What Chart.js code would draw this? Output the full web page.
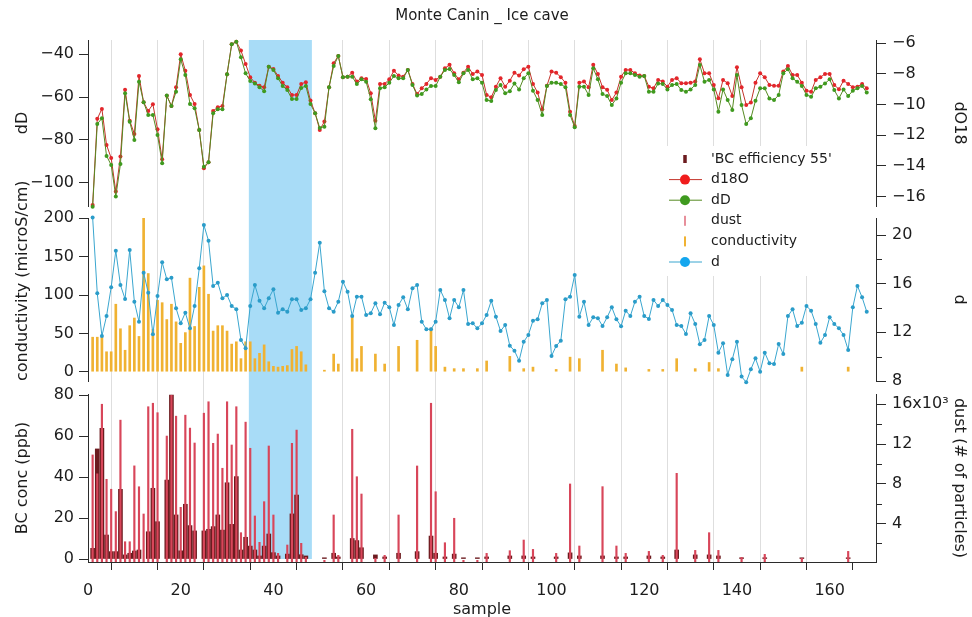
<!DOCTYPE html>
<html>
<head>
<meta charset="utf-8">
<script src="https://cdn.jsdelivr.net/npm/chart.js@4.4.1/dist/chart.umd.min.js"></script>
<style>
  html, body { margin: 0; padding: 0; background: #ffffff; }
  canvas { display: block; }
</style>
</head>
<body>
<canvas id="c" width="972" height="617"></canvas>
<script>
// ---------------- data ----------------
const firstSample = 1; // series below start at sample 1, one value per sample

const d18O = [
  -16.54,-10.93,-10.28,-12.63,-13.48,-15.67,-13.39,-9.04,-11.05,-11.91,
  -8.13,-9.85,-10.41,-9.98,-11.61,-13.56,-9.42,-10.09,-8.87,-6.72,
  -7.79,-9.37,-9.96,-11.65,-14.15,-13.76,-10.41,-10.17,-10.09,-8.02,
  -6.07,-5.90,-6.48,-7.35,-8.22,-8.57,-8.78,-8.87,-7.53,-7.68,
  -8.13,-8.57,-8.87,-9.37,-9.37,-8.65,-8.54,-9.74,-10.56,-11.65,
  -11.11,-8.87,-7.30,-6.83,-8.22,-8.18,-7.92,-8.50,-8.28,-8.33,
  -9.26,-11.05,-8.65,-8.65,-8.35,-7.79,-8.11,-8.18,-7.74,-8.65,
  -9.31,-8.93,-8.65,-8.28,-8.39,-8.18,-7.63,-7.41,-7.96,-8.35,
  -7.92,-7.53,-8.00,-7.85,-8.07,-9.37,-9.52,-8.83,-8.28,-8.83,
  -8.44,-7.92,-8.11,-7.69,-7.53,-8.65,-9.22,-10.30,-8.78,-7.85,
  -7.92,-8.22,-8.57,-10.46,-11.39,-8.57,-8.50,-8.87,-7.41,-8.00,
  -8.87,-9.04,-9.70,-9.22,-8.18,-7.74,-7.74,-7.96,-8.11,-8.13,
  -8.83,-8.93,-8.39,-8.50,-8.83,-8.39,-8.28,-8.61,-8.61,-8.57,
  -8.50,-7.04,-7.96,-7.96,-8.72,-9.59,-8.39,-8.61,-9.44,-7.56,
  -8.87,-10.02,-9.87,-8.57,-7.96,-8.22,-8.72,-8.78,-8.78,-7.85,
  -7.48,-8.07,-8.07,-8.57,-9.09,-9.16,-8.39,-8.22,-8.00,-8.00,
  -8.72,-9.00,-8.44,-8.65,-8.87,-8.83,-8.65,-8.93
];

const dD = [
  -111.2,-72.6,-69.9,-87.5,-91.7,-106.5,-91.3,-58.2,-71.5,-80,
  -52.8,-62.4,-68.4,-68.4,-77.7,-90.9,-59.3,-64.2,-57.5,-42.3,
  -49.7,-63.2,-65.2,-75.4,-92.5,-90.5,-67.6,-65.7,-65.7,-49.3,
  -35.3,-34.1,-41.4,-48.9,-52.5,-53.6,-55.4,-57.2,-45.8,-47.3,
  -51.2,-54.8,-56.7,-60.9,-60.9,-55.7,-54.8,-63.2,-67.6,-74.4,
  -73.8,-55.4,-45.5,-40.8,-50.7,-50.5,-50.5,-53.9,-51.7,-52.8,
  -61,-74.6,-55.9,-55.4,-53.3,-50.1,-51.2,-51.2,-47.3,-54.3,
  -59.2,-58.6,-56.4,-54.8,-54.8,-50.5,-47.3,-46.9,-49.7,-53.1,
  -48.9,-47.3,-51.7,-51.2,-53.3,-61.4,-61.8,-56.7,-54.3,-58.2,
  -57.2,-53.6,-56.4,-51.2,-48.9,-57,-61.4,-68.4,-54.8,-53.3,
  -53.3,-53.9,-55.4,-68.4,-74.1,-55.1,-55.1,-59,-46.5,-51.7,
  -58.6,-59.5,-63.7,-60.6,-53.3,-48.9,-48.9,-49.7,-50.5,-50.1,
  -57.5,-57.5,-53.6,-53.9,-56.4,-54.3,-53.9,-56.7,-57.5,-56.4,
  -54.3,-45,-52.8,-52,-56.4,-66.8,-56.4,-61.4,-66,-49.7,
  -63.7,-72.6,-69.9,-61.7,-55.9,-55.9,-60.6,-61.4,-59,-48.9,
  -47,-51.2,-52.8,-54.8,-59,-59.8,-55.9,-55.1,-53.6,-51.7,
  -56.7,-60.6,-56.4,-59.5,-57,-55.9,-54.8,-57.9
];

const dExcess = [
  21.45,15.21,11.70,13.34,15.70,18.71,15.89,14.74,18.77,14.52,
  12.88,16.90,15.26,11.84,14.99,17.76,16.36,16.49,13.98,12.74,
  13.62,12.33,14.17,17.26,20.82,19.53,15.81,16.08,14.80,15.07,
  14.17,13.89,11.37,10.69,14.17,15.89,14.60,13.98,14.80,15.54,
  13.62,13.89,13.70,14.72,14.72,13.84,13.98,14.72,16.90,19.37,
  15.37,13.98,13.70,14.52,16.16,15.34,13.34,14.93,14.93,13.43,
  13.57,14.39,13.48,14.44,14.06,12.60,14.25,14.88,13.89,15.62,
  15.89,12.88,12.25,12.25,12.88,15.48,14.66,13.16,14.66,14.06,
  15.48,12.69,12.74,12.33,12.74,13.43,14.60,13.29,12.11,12.60,
  10.90,10.49,9.67,11.23,11.78,12.96,13.07,14.39,14.66,10.06,
  10.88,11.31,14.72,14.93,16.71,13.29,14.52,12.60,13.24,13.16,
  12.52,13.24,14.06,13.07,12.50,13.78,13.34,14.52,14.93,13.34,
  13.10,14.66,14.17,14.66,14.25,13.84,12.60,12.52,11.87,13.57,
  12.69,11.02,11.37,13.34,12.60,10.33,11.10,8.50,9.79,11.23,
  8.36,7.90,8.96,9.87,8.77,10.33,9.46,9.40,11.04,10.22,
  13.34,13.89,12.52,12.79,14.17,13.78,12.69,11.15,11.78,13.24,
  12.69,12.33,11.78,10.55,14.06,15.81,14.88,13.70
];

const condSample = [1,2,3,4,5,6,7,8,9,10,11,12,13,14,15,16,17,18,19,20,21,22,23,24,25,26,27,28,29,30,
  31,32,33,34,35,36,37,38,39,40,41,42,43,44,45,46,47,
  51,53,54,57,58,59,62,64,67,71,74,75,77,79,81,84,86,91,94,96,101,104,106,111,114,116,121,124,127,131,134,136,154,164];
const condValue = [45,45,45,26,26,88,56,28,60,70,46,200,128,55,93,90,68,88,65,37,51,122,59,110,138,101,53,60,60,53,
  36,39,17,39,39,17,24,35,13,7,6,7,8,29,33,26,9,
  2,23,10,72,17,33,23,10,33,41,57,33,6,4,4,4,14,20,4,6,3,19,17,28,10,5,3,3,17,4,12,4,6,6];

const bcSample = [1,2,3,4,5,6,7,8,9,10,11,13,14,15,17,18,19,20,21,22,23,25,26,27,28,29,30,31,32,33,34,35,36,37,38,39,40,41,
  43,44,45,46,47,51,53,54,57,58,59,62,64,67,71,74,75,77,79,81,84,86,91,94,96,101,104,106,111,114,116,121,124,127,131,134,136,141,146,154,164];
const bcValue = [5.2,53.7,63.7,11.7,3.6,3.6,34,2,2.8,3.9,4.4,13.3,34.5,18.2,38.5,80,21.5,4,26.7,16.3,13.7,13.7,14.5,15.8,21.5,14.1,37.2,16.9,40.2,4.4,10.6,6.3,4.4,1.5,6.3,12.2,3.1,1.5,
  2.4,22,31.2,2.1,1.5,0.6,2.8,1,10,9,5.5,2,1,2.8,3.6,11.2,2.8,1,2.4,0.6,0.6,1,1.5,1.5,1,1,3,1.5,1.5,1,1,1.5,1,4.4,2,2,1.5,0.6,0.6,0.6,0.6];

const dustSample = [1,2,3,4,5,6,7,8,9,10,11,12,13,14,15,17,18,19,20,21,22,23,25,26,27,28,29,30,31,32,33,34,35,36,37,38,39,40,41,
  43,44,45,46,47,51,53,54,57,58,59,62,64,67,71,74,75,77,79,81,84,86,91,94,96,101,104,106,111,114,116,121,124,127,131,134,136,141,146,154,164];
const dustValue = [10900,9000,16000,8450,7450,5200,14400,2170,2170,9800,7700,4960,15750,16100,15150,12800,16900,14800,5630,14900,13600,12100,
  15100,16250,12070,13000,9560,16250,11900,15750,3080,14200,11570,4760,2110,6200,11800,4860,1000,
  1840,12070,13400,2010,600,300,4860,800,13480,8710,6970,500,800,4860,9790,16100,7200,2070,4530,300,300,1000,1270,2340,1400,1000,7980,1740,7710,1740,1000,1200,800,9050,1300,3080,1300,600,900,500,1200];

const highlightSamples = [34.7, 48.3]; // shaded sample range

// tick values / labels
const xMajorTicks = [0,20,40,60,80,100,120,140,160];
const xMinorTicks = [10,30,50,70,90,110,130,150,170];
const dDTicks = [-100,-80,-60,-40];
const d18OTicks = [-16,-14,-12,-10,-8,-6];
const condTicks = [0,50,100,150,200];
const dMajorTicks = [8,12,16,20];
const dMinorTicks = [10,14,18];
const bcTicks = [0,20,40,60,80];
const dustMajorTicks = [4000,8000,12000,16000];
const dustMinorTicks = [2000,6000,10000,14000];
const dustTickLabels = ['4','8','12','16x10\u00B3'];

// ---------------- styling ----------------
const FONT = "'DejaVu Sans', sans-serif";
const INK = '#1c1c1c';
const AXIS = '#2b2b2b';
const C = {
  red: '#e3262b', redLine: '#c4332a',
  green: '#3f9a1f', greenLine: '#568a22',
  blue: '#2a9cc9', blueLine: '#3aa6cf',
  orange: '#f0b232',
  bc: '#6c1b1f',
  dust: '#d8465a',
  band: 'rgb(168,220,247)'
};
Chart.defaults.font.family = FONT;
Chart.defaults.font.size = 16;
Chart.defaults.color = INK;

const minusFmt = v => String(v).replace('-', '\u2212');
const seq = arr => arr.map((v, i) => ({x: firstSample + i, y: v}));
const pairs = (xs, ys) => xs.map((x, i) => ({x: x, y: ys[i]}));
const setTicks = list => (s => { s.ticks = list.slice().sort((a, b) => a - b).map(v => ({value: v})); });

function leftAxis(o) {
  return {
    type: 'linear', position: 'left', stack: 'L', stackWeight: o.sw, weight: o.weight,
    min: o.min, max: o.max,
    afterBuildTicks: setTicks(o.ticks),
    afterFit: s => { s.width = 88; },
    ticks: {font: {size: 16}, color: INK, padding: 5, autoSkip: false, callback: o.label},
    grid: {display: true, drawOnChartArea: false, drawTicks: true, tickLength: 9, tickColor: AXIS, tickWidth: 1},
    border: {display: true, color: AXIS, width: 1},
    title: {display: true, text: o.title, font: {size: 16}, color: INK, align: o.align || 'center',
            padding: {top: 13, bottom: 0}}
  };
}
function rightAxis(o) {
  const minor = o.minor || [];
  return {
    type: 'linear', position: 'right', stack: 'R', stackWeight: o.sw, weight: o.weight,
    min: o.min, max: o.max,
    minorTicks: minor,
    afterBuildTicks: setTicks(o.ticks.concat(minor)),
    afterFit: s => { s.width = 96; },
    ticks: {font: {size: 16}, color: INK, padding: 6, autoSkip: false, callback: o.label},
    grid: {display: true, drawOnChartArea: false, drawTicks: true, tickLength: 10, tickWidth: 1,
           tickColor: c => (c.tick && minor.includes(c.tick.value)) ? 'rgba(0,0,0,0)' : AXIS},
    border: {display: true, color: AXIS, width: 1},
    title: {display: true, text: o.title, font: {size: 16}, color: INK, align: o.align || 'center',
            padding: {top: 3, bottom: 0}}
  };
}
function spacer(pos, stack, sw, weight) {
  return {type: 'linear', display: false, position: pos, stack: stack, stackWeight: sw, weight: weight,
          afterFit: s => { s.width = 0; }};
}

// shaded band plugin
const bandPlugin = {
  id: 'band',
  beforeDatasetsDraw(chart) {
    const {ctx, chartArea, scales} = chart;
    const x0 = scales.x.getPixelForValue(highlightSamples[0]);
    const x1 = scales.x.getPixelForValue(highlightSamples[1]);
    const yb = scales.yBC.getPixelForValue(0);
    ctx.save();
    ctx.fillStyle = C.band;
    ctx.fillRect(x0, chartArea.top, x1 - x0, yb - chartArea.top);
    ctx.restore();
  }
};

// short minor tick marks on the right-hand axes
const minorTickPlugin = {
  id: 'minorTicks',
  afterDraw(chart) {
    const ctx = chart.ctx;
    ctx.save();
    ctx.strokeStyle = AXIS;
    ctx.lineWidth = 1;
    ['yD', 'yDust'].forEach(id => {
      const s = chart.scales[id];
      (s.options.minorTicks || []).forEach(v => {
        const y = Math.round(s.getPixelForValue(v)) + 0.5;
        ctx.beginPath();
        ctx.moveTo(s.left, y);
        ctx.lineTo(s.left + 6, y);
        ctx.stroke();
      });
    });
    ctx.restore();
  }
};

// in-plot legend plugin
const legendItems = [
  {label: "'BC efficiency 55'", kind: 'bar', color: C.bc, w: 3.5, h: 8},
  {label: 'd18O', kind: 'line', line: C.redLine, marker: '#f01c1c'},
  {label: 'dD', kind: 'line', line: C.greenLine, marker: '#3f9a1f'},
  {label: 'dust', kind: 'bar', color: C.dust, w: 1.2, h: 10},
  {label: 'conductivity', kind: 'bar', color: C.orange, w: 2, h: 10},
  {label: 'd', kind: 'line', line: C.blueLine, marker: '#14a6ee'}
];
const legendPlugin = {
  id: 'boxLegend',
  afterDatasetsDraw(chart) {
    const ctx = chart.ctx;
    ctx.save();
    ctx.fillStyle = '#ffffff';
    ctx.fillRect(662, 146, 190, 130);
    const xs = 685, xt = 711, y0 = 159, dy = 20.6;
    legendItems.forEach((it, i) => {
      const y = y0 + i * dy;
      if (it.kind === 'line') {
        ctx.strokeStyle = it.line; ctx.lineWidth = 1;
        ctx.beginPath(); ctx.moveTo(669, y); ctx.lineTo(702, y); ctx.stroke();
        ctx.fillStyle = it.marker;
        ctx.beginPath(); ctx.arc(xs, y, 5, 0, Math.PI * 2); ctx.fill();
      } else {
        ctx.fillStyle = it.color;
        ctx.fillRect(xs - it.w / 2, y - it.h / 2, it.w, it.h);
      }
      ctx.fillStyle = INK;
      ctx.font = '14px ' + FONT;
      ctx.textAlign = 'left';
      ctx.textBaseline = 'middle';
      ctx.fillText(it.label, xt, y);
    });
    ctx.restore();
  }
};

const chart = new Chart(document.getElementById('c'), {
  type: 'line',
  data: {
    datasets: [
      {type: 'bar', label: "'BC efficiency 55'", data: pairs(bcSample, bcValue), xAxisID: 'x', yAxisID: 'yBC',
       backgroundColor: C.bc, borderWidth: 0, barThickness: 4, grouped: false, order: 5},
      {type: 'bar', label: 'dust', data: pairs(dustSample, dustValue), xAxisID: 'x', yAxisID: 'yDust',
       backgroundColor: C.dust, borderWidth: 0, barThickness: 1.5, grouped: false, order: 4},
      {type: 'line', label: 'd18O', data: seq(d18O), xAxisID: 'x', yAxisID: 'yO18',
       borderColor: C.redLine, borderWidth: 1, pointRadius: 2, pointBackgroundColor: C.red,
       pointBorderWidth: 0, tension: 0, clip: false, order: 3},
      {type: 'line', label: 'dD', data: seq(dD), xAxisID: 'x', yAxisID: 'yDD',
       borderColor: C.greenLine, borderWidth: 1, pointRadius: 2, pointBackgroundColor: C.green,
       pointBorderWidth: 0, tension: 0, clip: false, order: 2},
      {type: 'bar', label: 'conductivity', data: pairs(condSample, condValue), xAxisID: 'x', yAxisID: 'yCond',
       backgroundColor: C.orange, borderWidth: 0, barThickness: 2, grouped: false, order: 1},
      {type: 'line', label: 'd', data: seq(dExcess), xAxisID: 'x', yAxisID: 'yD',
       borderColor: C.blueLine, borderWidth: 1, pointRadius: 2, pointBackgroundColor: C.blue,
       pointBorderWidth: 0, tension: 0, clip: false, order: 0}
    ]
  },
  options: {
    responsive: false,
    animation: false,
    events: [],
    layout: {padding: 0},
    plugins: {
      legend: {display: false},
      tooltip: {enabled: false},
      title: {display: true, fullSize: false, text: 'Monte Canin _ Ice cave', color: INK,
              font: {size: 15, weight: 'normal'}, padding: {top: 7, bottom: 15}}
    },
    scales: {
      x: {
        type: 'linear', position: 'bottom', min: 0, max: 170, offset: false,
        afterBuildTicks: setTicks(xMajorTicks.concat(xMinorTicks)),
        afterFit: s => { s.height = 55; },
        ticks: {autoSkip: false, maxRotation: 0, padding: 11, font: {size: 16}, color: INK,
                callback: v => xMajorTicks.includes(v) ? String(v) : ''},
        grid: {display: true, drawOnChartArea: true, drawTicks: true, tickLength: 8,
               color: c => (c.tick && (c.tick.value === 0 || c.tick.value === 170)) ? 'rgba(0,0,0,0)' : '#dedede',
               tickColor: AXIS, lineWidth: 1},
        border: {display: true, color: AXIS, width: 1},
        title: {display: true, text: 'sample', font: {size: 16}, color: INK, padding: {top: 0, bottom: -2}}
      },
      // left stack (top to bottom)
      yDD: leftAxis({sw: 166, weight: 5, min: -110.9, max: -33.3, ticks: dDTicks, label: minusFmt, title: 'dD'}),
      gapL1: spacer('left', 'L', 12, 4),
      yCond: leftAxis({sw: 163, weight: 3, min: -12.1, max: 200.4, ticks: condTicks, label: v => String(v),
                       title: 'conductivity (microS/cm)', align: 'start'}),
      gapL2: spacer('left', 'L', 13, 2),
      yBC: leftAxis({sw: 168, weight: 1, min: -1.46, max: 80.5, ticks: bcTicks, label: v => String(v),
                     title: 'BC conc (ppb)'}),
      // right stack (top to bottom)
      yO18: rightAxis({sw: 166, weight: 1, min: -16.61, max: -5.79, ticks: d18OTicks, label: minusFmt, title: 'dO18'}),
      gapR1: spacer('right', 'R', 12, 2),
      yD: rightAxis({sw: 163, weight: 3, min: 8.0, max: 21.4, ticks: dMajorTicks, minor: dMinorTicks,
                     label: v => dMajorTicks.includes(v) ? String(v) : '', title: 'd'}),
      gapR2: spacer('right', 'R', 13, 4),
      yDust: rightAxis({sw: 168, weight: 5, min: 131, max: 17030, ticks: dustMajorTicks, minor: dustMinorTicks,
                        label: v => dustMajorTicks.includes(v) ? dustTickLabels[dustMajorTicks.indexOf(v)] : '',
                        title: 'dust (# of particles)'})
    }
  },
  plugins: [bandPlugin, legendPlugin, minorTickPlugin]
});
</script>
</body>
</html>
